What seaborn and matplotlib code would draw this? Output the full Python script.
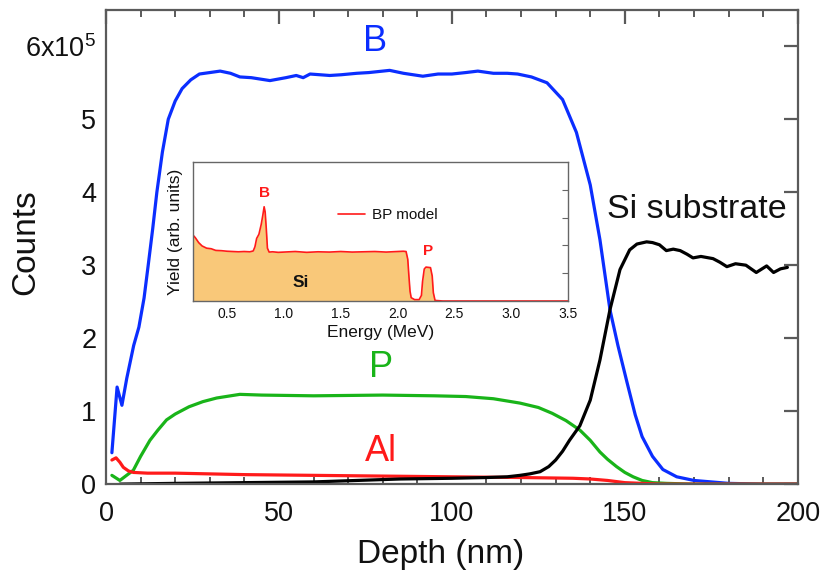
import numpy as np
import pandas as pd
import matplotlib
matplotlib.use("Agg")
import matplotlib.pyplot as plt
import seaborn as sns
from matplotlib.ticker import MultipleLocator, FixedLocator

# ---- depth profiles (counts in units of 1e5) ----
b_depth = [1.7, 3.2, 4.6, 6, 8, 9.5, 11, 12.2, 13.5, 14.7, 16.3, 18, 20, 22, 24.5, 27, 30,
           33, 36, 38.7, 42, 47.4, 52, 55, 57, 59, 64.7, 68, 72.5, 76, 80, 82, 86, 91.6,
           96, 100, 104, 107.5, 112, 116, 119, 123, 127.5, 132, 136, 140, 142.8, 145.7,
           148, 150.6, 153, 155, 158, 161, 165, 170, 180, 190, 200]
b_counts = [0.43, 1.33, 1.08, 1.45, 1.9, 2.15, 2.55, 3.0, 3.5, 4.0, 4.55, 5.0, 5.25, 5.42,
            5.54, 5.62, 5.64, 5.66, 5.63, 5.58, 5.57, 5.53, 5.57, 5.6, 5.57, 5.62, 5.6,
            5.61, 5.63, 5.64, 5.66, 5.67, 5.63, 5.59, 5.62, 5.62, 5.64, 5.66, 5.63, 5.63,
            5.62, 5.58, 5.5, 5.27, 4.82, 4.1, 3.35, 2.39, 1.9, 1.4, 0.95, 0.65, 0.38, 0.2,
            0.1, 0.05, 0.01, 0.0, 0.0]

p_depth = [1.7, 4, 7.9, 10, 12.7, 15, 17.5, 20, 24, 28, 32, 38.7, 45, 60, 80, 95, 104,
           112, 119.7, 125, 129, 133, 137, 140, 142.8, 145, 147.6, 150, 152.4, 155, 158,
           162, 170, 185, 200]
p_counts = [0.12, 0.05, 0.19, 0.38, 0.6, 0.74, 0.88, 0.96, 1.06, 1.13, 1.18, 1.23, 1.22,
            1.21, 1.22, 1.21, 1.2, 1.17, 1.11, 1.05, 0.97, 0.87, 0.74, 0.6, 0.44, 0.34,
            0.24, 0.16, 0.1, 0.05, 0.02, 0.01, 0.0, 0.0, 0.0]

al_depth = [1.7, 2.9, 4, 5, 6.5, 7.9, 12, 20, 40, 60, 80, 100, 120, 135, 140, 145, 150,
            155, 160, 200]
al_counts = [0.33, 0.36, 0.3, 0.23, 0.18, 0.16, 0.15, 0.15, 0.13, 0.12, 0.11, 0.1, 0.09,
             0.08, 0.07, 0.05, 0.02, 0.01, 0.0, 0.0]

si_depth = [4, 20, 40, 60, 85, 100, 110, 116, 119.7, 122.5, 125.5, 128, 130, 132, 134,
            137, 140, 142.8, 145.7, 148.6, 151.4, 153.5, 156.3, 158, 160, 162, 164, 166,
            168, 169.7, 172, 175.5, 177.5, 179.5, 182, 185, 188, 191, 193, 195, 197]
si_counts = [0.0, 0.01, 0.02, 0.03, 0.07, 0.08, 0.09, 0.1, 0.12, 0.14, 0.17, 0.24, 0.33,
             0.45, 0.6, 0.8, 1.15, 1.7, 2.39, 2.94, 3.21, 3.29, 3.32, 3.31, 3.28, 3.2,
             3.22, 3.2, 3.15, 3.1, 3.12, 3.09, 3.04, 2.98, 3.02, 3.0, 2.9, 2.99, 2.9,
             2.95, 2.97]

# ---- RBS spectrum for the inset ----
energy = [0.20, 0.22, 0.25, 0.28, 0.32, 0.36, 0.40, 0.45, 0.50, 0.55, 0.60, 0.65, 0.70,
          0.73, 0.745, 0.76, 0.78, 0.80, 0.815, 0.826, 0.835, 0.845, 0.855, 0.87, 0.90,
          0.95, 1.0, 1.1, 1.2, 1.3, 1.4, 1.5, 1.6, 1.7, 1.8, 1.9, 2.0, 2.05, 2.075,
          2.09, 2.10, 2.11, 2.12, 2.15, 2.19, 2.21, 2.22, 2.235, 2.25, 2.29, 2.305,
          2.315, 2.33, 2.4, 2.8, 3.2, 3.5]
yield_ = [2.37, 2.28, 2.1, 1.98, 1.9, 1.88, 1.82, 1.81, 1.79, 1.78, 1.77, 1.78, 1.77,
          1.8, 1.95, 2.25, 2.4, 2.75, 3.1, 3.39, 3.2, 2.6, 1.9, 1.76, 1.77, 1.75, 1.76,
          1.78, 1.75, 1.77, 1.76, 1.78, 1.76, 1.77, 1.78, 1.76, 1.78, 1.79, 1.78, 1.5,
          0.9, 0.35, 0.12, 0.05, 0.05, 0.2, 0.7, 1.15, 1.22, 1.2, 0.9, 0.3, 0.02, 0.0,
          0.0, 0.0, 0.0]

main_ticks = [0, 1, 2, 3, 4, 5, 6]
main_ticklabels = ["0", "1", "2", "3", "4", "5", r"6x10$^{5}$"]
inset_ticks = [0.5, 1.0, 1.5, 2.0, 2.5, 3.0, 3.5]

BLUE = "#0b2eff"
GREEN = "#19b419"
RED = "#ff1a1a"
SPINE = "#5a5a5a"
INK = "#111111"

sns.set_theme(style="white")
plt.rcParams["font.family"] = ["Liberation Sans", "DejaVu Sans"]
plt.rcParams["mathtext.fontset"] = "custom"
plt.rcParams["mathtext.rm"] = "Liberation Sans"
plt.rcParams["text.color"] = INK
plt.rcParams["axes.labelcolor"] = INK
plt.rcParams["xtick.labelcolor"] = INK
plt.rcParams["ytick.labelcolor"] = INK

fig = plt.figure(figsize=(8.25, 5.77), dpi=100)
ax = fig.add_axes([0.1285, 0.161, 0.967 - 0.1285, 0.983 - 0.161])

series = [
    (b_depth, b_counts, BLUE),
    (p_depth, p_counts, GREEN),
    (al_depth, al_counts, RED),
    (si_depth, si_counts, "black"),
]
for d, c, col in series:
    sns.lineplot(x=d, y=c, ax=ax, color=col, lw=2.3, sort=False, estimator=None)

ax.set_xlim(0, 200)
ax.set_ylim(0, 6.5)
ax.xaxis.set_major_locator(MultipleLocator(50))
ax.xaxis.set_minor_locator(MultipleLocator(10))
ax.yaxis.set_major_locator(FixedLocator(main_ticks))
ax.set_yticklabels(main_ticklabels)
ax.tick_params(axis="both", which="major", direction="in", length=10, width=1.6,
               color=SPINE, labelcolor=INK, labelsize=19.5, top=True, right=True)
ax.tick_params(axis="x", which="major", pad=12)
ax.tick_params(axis="y", which="major", pad=7)
ax.tick_params(axis="x", which="minor", direction="in", length=5, width=1.4,
               color=SPINE, top=True, bottom=True)
for s in ax.spines.values():
    s.set_color(SPINE)
    s.set_linewidth(1.6)
ax.set_xlabel("Depth (nm)", fontsize=24, color=INK)
ax.xaxis.set_label_coords(0.483, -0.115)
ax.set_ylabel("Counts", fontsize=24, color=INK)
ax.yaxis.set_label_coords(-0.093, 0.51)

ax.text(77.9, 6.07, "B", color=BLUE, fontsize=26, ha="center", va="center")
ax.text(79.5, 1.6, "P", color=GREEN, fontsize=26, ha="center", va="center")
ax.text(79.5, 0.44, "Al", color=RED, fontsize=26, ha="center", va="center")
ax.text(170.8, 3.76, "Si substrate", color=INK, fontsize=24.5, ha="center", va="center")

# ---- inset: RBS spectrum ----
ins = fig.add_axes([193 / 825, (577 - 301) / 577, 375 / 825, 139 / 577])
ins.fill_between(energy, yield_, 0, color="#f9c879", lw=0, zorder=1)
sns.lineplot(x=energy, y=yield_, ax=ins, color=RED, lw=1.2, sort=False,
             estimator=None, label="BP model", zorder=2)
ins.set_xlim(0.2, 3.5)
ins.set_ylim(0, 5)
ins.xaxis.set_major_locator(FixedLocator(inset_ticks))
ins.set_xticklabels([f"{t:.1f}" for t in inset_ticks])
ins.yaxis.set_major_locator(FixedLocator([1, 2, 3, 4]))
ins.set_yticklabels([])
ins.tick_params(axis="both", direction="in", length=4, width=0.8, color="#666666",
                labelcolor=INK, labelsize=10, right=True, pad=4)
for s in ins.spines.values():
    s.set_color("#666666")
    s.set_linewidth(1.0)
ins.set_xlabel("Energy (MeV)", fontsize=12.5, labelpad=3, color=INK)
ins.set_ylabel("Yield (arb. units)", fontsize=12.5, labelpad=3, color=INK)
leg = ins.legend(loc="upper left", bbox_to_anchor=(0.37, 0.71), frameon=False, fontsize=11,
                 handlelength=1.8, handletextpad=0.45, borderaxespad=0)
for t in leg.get_texts():
    t.set_color(INK)
ins.text(0.83, 3.9, "B", color=RED, fontsize=11, fontweight="bold", ha="center", va="center")
ins.text(2.27, 1.8, "P", color=RED, fontsize=11, fontweight="bold", ha="center", va="center")
ins.text(1.15, 0.65, "Si", color=INK, fontsize=12.5, fontweight="bold", ha="center", va="center")

fig.savefig("out.png", dpi=100)
